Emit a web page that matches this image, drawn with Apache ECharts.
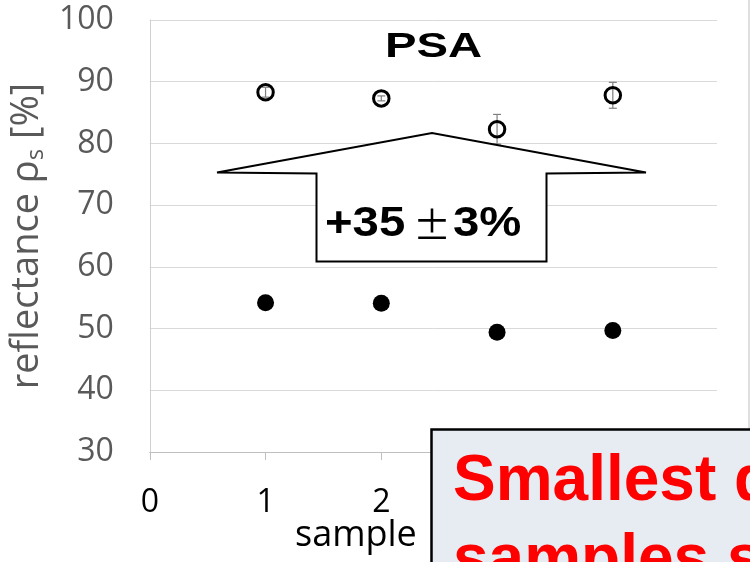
<!DOCTYPE html>
<html><head><meta charset="utf-8">
<script src="https://cdn.jsdelivr.net/npm/echarts@6/dist/echarts.min.js"></script>
<style>html,body{margin:0;padding:0;background:#fff}#c{width:750px;height:562px}</style>
</head><body><div id="c"></div>
<script>
const samples = [1, 2, 3, 4];
const beforeValues = [54.2, 54.1, 49.4, 49.7];
const afterValues = [88.3, 87.3, 82.3, 87.8];
const afterErrors = [0.8, 0.4, 2.4, 2.1];
const yTicks = [30, 40, 50, 60, 70, 80, 90, 100];
const xTicks = [0, 1, 2, 3, 4];

const chart = echarts.init(document.getElementById('c'), null, {renderer: 'canvas'});
const font = '"Open Sans", "Noto Sans", sans-serif';
const bold = '"Liberation Sans", Arial, sans-serif';
const errData = samples.map((s, i) => [s, afterValues[i] - afterErrors[i], afterValues[i] + afterErrors[i]]);

chart.setOption({
  animation: false,
  backgroundColor: '#fff',
  grid: {left: 149, top: 20, right: 33, bottom: 110, containLabel: false},
  xAxis: {
    type: 'value', min: 0, max: 4.9, interval: 1,
    axisLine: {show: true, lineStyle: {color: '#bfbfbf', width: 1}},
    axisTick: {show: true, length: 8, lineStyle: {color: '#bfbfbf'}},
    splitLine: {show: false},
    axisLabel: {color: '#000', fontSize: 32, fontFamily: font, margin: 35, showMaxLabel: false,
      formatter: v => xTicks.includes(v) ? String(v) : ''}
  },
  yAxis: {
    type: 'value', min: yTicks[0], max: yTicks[yTicks.length - 1], interval: 10,
    axisLine: {show: true, onZero: false, lineStyle: {color: '#d0d0d0'}},
    axisTick: {show: false},
    splitLine: {show: true, lineStyle: {color: '#d9d9d9', width: 1}},
    axisLabel: {color: '#595959', fontSize: 32, fontFamily: font, margin: 36},
    name: '{a|reflectance ρ}{s|s}{a| [%]}',
    nameLocation: 'middle', nameGap: 98,
    nameTextStyle: {rich: {
      a: {color: '#595959', fontSize: 38, fontFamily: font},
      s: {color: '#595959', fontSize: 24, fontFamily: font, padding: [18, 0, 0, 0]}
    }}
  },
  series: [
    {
      type: 'custom', z: 1,
      renderItem: function (params, api) {
        const x = api.value(0);
        const lo = api.coord([x, api.value(1)]);
        const hi = api.coord([x, api.value(2)]);
        const w = 4;
        const st = {stroke: '#7f7f7f', lineWidth: 1.2};
        return {type: 'group', children: [
          {type: 'line', shape: {x1: lo[0], y1: lo[1], x2: hi[0], y2: hi[1]}, style: st},
          {type: 'line', shape: {x1: lo[0] - w, y1: lo[1], x2: lo[0] + w, y2: lo[1]}, style: st},
          {type: 'line', shape: {x1: hi[0] - w, y1: hi[1], x2: hi[0] + w, y2: hi[1]}, style: st}
        ]};
      },
      data: errData
    },
    {
      type: 'scatter', z: 3, symbol: 'circle', symbolSize: 15.5,
      itemStyle: {color: 'rgba(0,0,0,0)', borderColor: '#000', borderWidth: 3, opacity: 1},
      data: samples.map((s, i) => [s, afterValues[i]])
    },
    {
      type: 'scatter', z: 3, symbol: 'circle', symbolSize: 17,
      itemStyle: {color: '#000', opacity: 1},
      data: samples.map((s, i) => [s, beforeValues[i]])
    }
  ],
  graphic: [
    {type: 'line', z: 10, shape: {x1: 749, y1: 0, x2: 749, y2: 430}, style: {stroke: '#bfbfbf', lineWidth: 1}},
    {type: 'text', z: 10, x: 385, y: 65, scaleX: 1.35, style: {text: 'PSA', fill: '#000', font: 'bold 35px ' + bold, verticalAlign: 'bottom'}},
    {type: 'polygon', z: 20, shape: {points: [[217, 172.5], [432, 133], [646, 172.5], [546.5, 173.5], [546.5, 261.5], [316.5, 261.5], [316.5, 173.5]]},
      style: {fill: '#fff', stroke: '#000', lineWidth: 2}},
    {type: 'text', z: 21, x: 325, y: 246, scaleX: 1.1, style: {text: '+35', fill: '#000', font: 'bold 43px ' + bold, verticalAlign: 'bottom'}},
    {type: 'text', z: 21, x: 413, y: 244, style: {text: '±', fill: '#000', font: '38px "Noto Sans CJK JP", sans-serif', verticalAlign: 'bottom'}},
    {type: 'text', z: 21, x: 453, y: 246, scaleX: 1.1, style: {text: '3%', fill: '#000', font: 'bold 43px ' + bold, verticalAlign: 'bottom'}},
    {type: 'text', z: 10, x: 295, y: 518, style: {text: 'sample', fill: '#000', font: '36px ' + font}},
    {type: 'rect', z: 30, shape: {x: 431.5, y: 429.5, width: 340, height: 160},
      style: {fill: '#e7ebf2', stroke: '#000', lineWidth: 2.5}},
    {type: 'text', z: 31, x: 453, y: 514, style: {text: 'Smallest difference', fill: '#ff0000', font: 'bold 64px ' + bold, verticalAlign: 'bottom'}},
    {type: 'text', z: 31, x: 453, y: 593, style: {text: 'samples show', fill: '#ff0000', font: 'bold 64px ' + bold, verticalAlign: 'bottom'}}
  ]
});
</script></body></html>
